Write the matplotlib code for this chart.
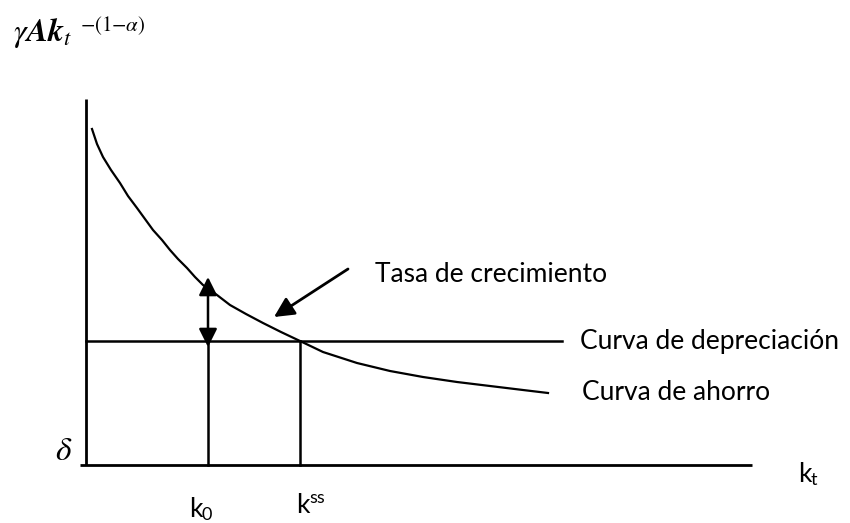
import matplotlib
matplotlib.use("Agg")
import matplotlib.pyplot as plt

# curva de ahorro  (gamma*A*k^-(1-alpha))
k_vals = [6, 11, 17, 25, 34, 42, 51, 59, 67, 76, 84, 92, 101, 109, 117,
          131, 144, 160, 177, 195, 214, 237, 271, 304, 337, 371, 404, 437, 462]
ahorro = [336, 321, 308, 295, 282, 269, 257, 246, 235, 225, 215, 206, 197,
          188, 180, 170, 160, 151, 142, 133, 124, 113, 102, 94, 88, 83, 79, 75, 72]

depreciacion = 124      # nivel de la recta horizontal
k_fin_dep = 476         # donde termina la recta de depreciacion
k0 = 122
kss = 214
k_max = 666             # largo del eje horizontal
y_max = 366             # alto del eje vertical

plt.rcParams['mathtext.fontset'] = 'stix'
fig = plt.figure(figsize=(8.5, 5.23), dpi=100)
ax = fig.add_axes([0, 0, 1, 1])
ax.set_xlim(-86, 764)
ax.set_ylim(-58, 465)
ax.axis('off')

# ejes
ax.plot([0, 0], [0, y_max], color='black', lw=2.0, solid_capstyle='butt')
ax.plot([-6, k_max], [0, 0], color='black', lw=2.0, solid_capstyle='butt')

# curvas
ax.plot([0, k_fin_dep], [depreciacion, depreciacion], color='black', lw=1.8)
ax.plot(k_vals, ahorro, color='black', lw=1.6)

# verticales en k0 y kss
ax.plot([k0, k0], [0, depreciacion], color='black', lw=1.8)
ax.plot([kss, kss], [0, depreciacion], color='black', lw=1.8)

# flecha doble (tasa de crecimiento en k0)
ax.annotate('', xy=(k0, 188), xytext=(k0, 118),
            arrowprops=dict(arrowstyle='<|-|>,head_length=1.0,head_width=0.5',
                            color='black', lw=1.8, mutation_scale=11,
                            shrinkA=0, shrinkB=0))
# flecha que senala la curva
ax.annotate('', xy=(188, 148), xytext=(262, 196),
            arrowprops=dict(arrowstyle='-|>,head_length=1.0,head_width=0.5',
                            color='black', lw=2.0, mutation_scale=12,
                            shrinkA=0, shrinkB=0))

font = 'Lato'
fs = 19
fs_sub = 13
ax.text(289, 183, 'Tasa de crecimiento', family=font, fontsize=fs, va='baseline')
ax.text(494, 116, 'Curva de depreciación', family=font, fontsize=fs, va='baseline')
ax.text(496, 65, 'Curva de ahorro', family=font, fontsize=fs, va='baseline')

# k_t, k_0, k^ss
ax.text(712, -17, 'k', family=font, fontsize=fs, va='baseline')
ax.text(725, -20, 't', family=font, fontsize=fs_sub, va='baseline')
ax.text(103, -52, 'k', family=font, fontsize=fs, va='baseline')
ax.text(116, -55, '0', family=font, fontsize=fs_sub, va='baseline')
ax.text(210, -48, 'k', family=font, fontsize=fs, va='baseline')
ax.text(223, -38, 'ss', family=font, fontsize=fs_sub, va='baseline')

# etiquetas matematicas
ax.text(-31, 5, r'$\delta$', fontsize=24, va='baseline')
ax.text(-73, 424, r'$\gamma\mathbfit{A}\mathbfit{k}_{t}$', fontsize=23, va='baseline')
ax.text(-6, 434, r'$-(1{-}\alpha)$', fontsize=15, va='baseline')

fig.savefig('out.png', dpi=100)
